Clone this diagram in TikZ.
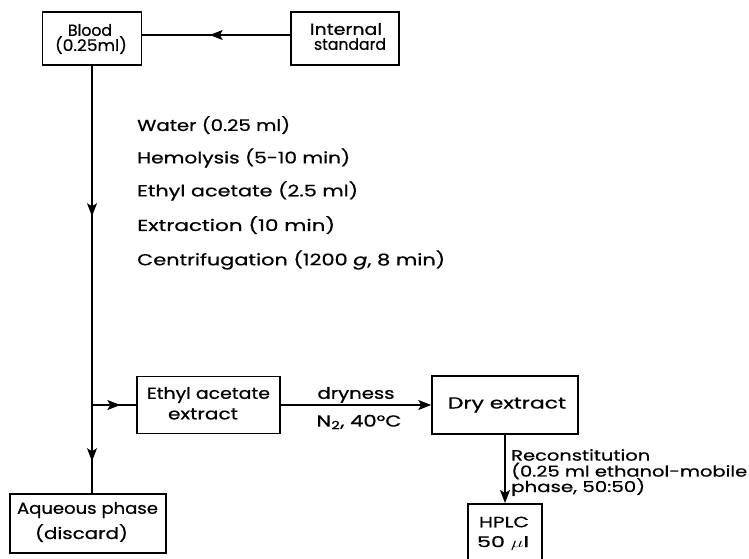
\documentclass[tikz,border=0pt]{standalone}
\usepackage{fontspec}
\usepackage{graphicx}
\setmainfont{Poppins}[FakeBold=0.6]
\usetikzlibrary{arrows.meta,decorations.markings}
\newcommand\fitw[2]{\resizebox{#1}{\height}{#2}}
\begin{document}
\begin{tikzpicture}[x=1pt,y=-1pt,
  box/.style={draw,line width=1.5pt,inner sep=0pt},
  txt/.style={inner sep=0pt,font=\fontsize{16}{16}\selectfont},
  lbl/.style={inner sep=0pt,anchor=west,font=\fontsize{16}{16}\selectfont},
  conn/.style={line width=1.3pt},
  tipA/.style={-{Stealth[length=13pt,width=10pt,inset=3pt]}},
  midarrow/.style={postaction={decorate},decoration={markings,mark=at position #1 with {\arrow{Stealth[length=13pt,width=10pt,inset=3pt]}}}},
  twoarrows/.style 2 args={postaction={decorate},decoration={markings,
     mark=at position #1 with {\arrow{Stealth[length=13pt,width=10pt,inset=3pt]}},
     mark=at position #2 with {\arrow{Stealth[length=13pt,width=10pt,inset=3pt]}}}}
]
\useasboundingbox (0,0) rectangle (749,558);

% boxes
\node[box, minimum width=99pt, minimum height=53pt] (blood) at (92,38.5) {};
\node[box, minimum width=108pt, minimum height=53pt] (istd) at (345,38.5) {};
\node[box, minimum width=143pt, minimum height=57pt] (eae) at (208.5,405) {};
\node[box, minimum width=146pt, minimum height=58pt] (dry) at (505,405) {};
\node[box, minimum width=156pt, minimum height=59pt] (aq) at (88,523.5) {};
\node[box, minimum width=74pt, minimum height=62pt, anchor=north] (hplc) at (505,503) {};

% box texts
\node[txt] (bloodA) at (90,30) {\fitw{44pt}{Blood}};
\node[txt] (bloodB) at (91,45) {\fitw{72pt}{(0.25ml)}};
\node[txt] (istdA) at (346,29) {\fitw{72pt}{Internal}};
\node[txt] (istdB) at (350,44) {\fitw{72pt}{standard}};
\node[txt] (eaeA) at (208.5,395) {\fitw{123pt}{Ethyl acetate}};
\node[txt] (eaeB) at (203,414) {\fitw{70pt}{extract}};
\node[txt] (dryA) at (507,405) {\fitw{118pt}{Dry extract}};
\node[txt] (aqA) at (87.5,510) {\fitw{141pt}{Aqueous phase}};
\node[txt] (aqB) at (81.5,533) {\fitw{93pt}{(discard)}};
\node[txt, font=\fontsize{15}{15}\selectfont] (hplcA) at (504,522) {\fitw{50pt}{HPLC}};
\node[txt, font=\fontsize{15}{15}\selectfont] (hplcB) at (503,543) {\fitw{52pt}{50 $\mu$l}};

% step list
\node[lbl] (t1) at (137,125) {\fitw{153pt}{Water (0.25 ml)}};
\node[lbl] (t2) at (137,158) {\fitw{213pt}{Hemolysis (5-10 min)}};
\node[lbl] (t3) at (137,191) {\fitw{221pt}{Ethyl acetate (2.5 ml)}};
\node[lbl] (t4) at (137,225) {\fitw{198pt}{Extraction (10 min)}};
\node[lbl] (t5) at (137,260) {\fitw{308pt}{Centrifugation (1200 \textit{g}, 8 min)}};

% connectors
\coordinate (hl) at (0,35);
\draw[conn, midarrow=0.544] (istd.west |- hl) -- (blood.east |- hl);
\coordinate (vend) at (blood.south |- aq.north);
\coordinate (br) at (blood.south |- eae.west);
\draw[conn, twoarrows={0.352}{0.925}] (blood.south) -- (vend);
\draw[conn, midarrow=0.64] (br) -- (eae.west);
\draw[conn, tipA] (eae.east) -- (dry.west)
  node[txt, midway, yshift=10pt] (dl1) {\fitw{77pt}{dryness}}
  node[txt, midway, xshift=3pt, yshift=-17pt] (dl2) {\fitw{85pt}{N\textsubscript{2}, 40°C}};
\draw[conn, tipA] (dry.south) -- (hplc.north);
\node[lbl, font=\fontsize{15}{15}\selectfont] (rec1) at (511,455) {\fitw{139pt}{Reconstitution}};
\node[lbl, font=\fontsize{15}{15}\selectfont] (rec2) at (511,471) {\fitw{236pt}{(0.25 ml ethanol-mobile}};
\node[lbl, font=\fontsize{15}{15}\selectfont] (rec3) at (511,487) {\fitw{134pt}{phase, 50:50)}};
\end{tikzpicture}
\end{document}
